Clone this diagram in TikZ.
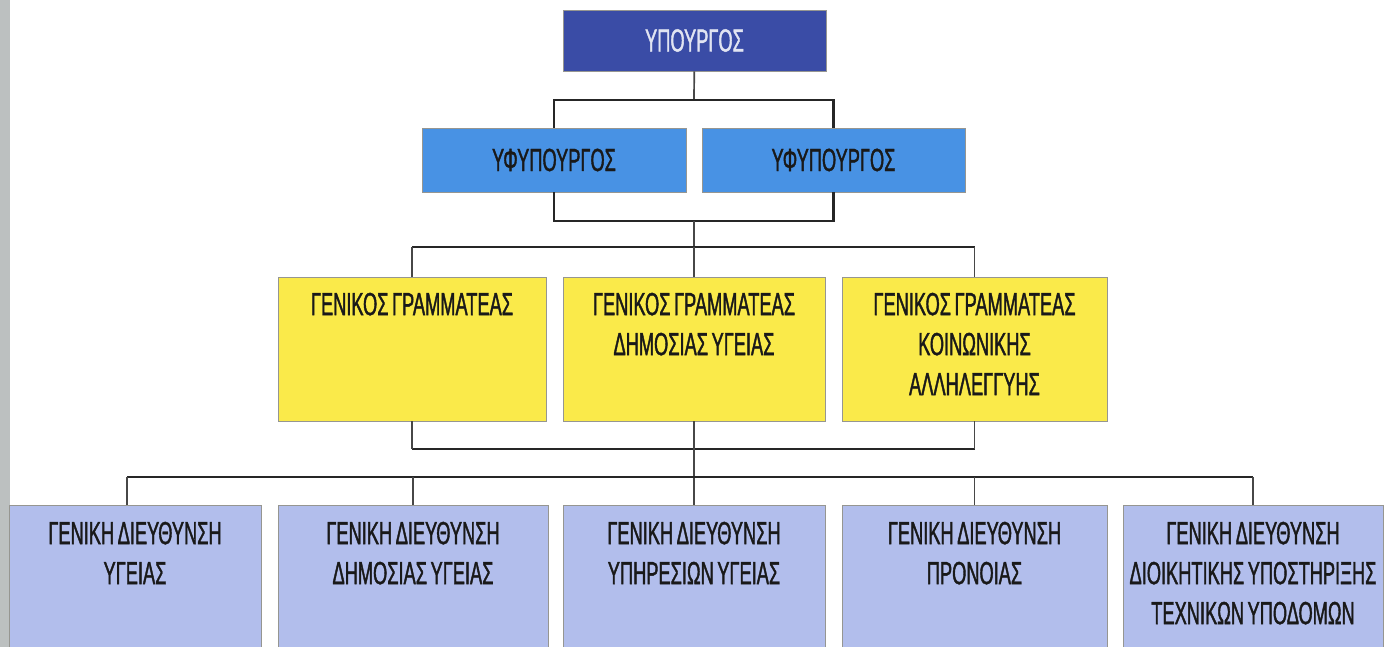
\documentclass[tikz,border=0pt]{standalone}
\usepackage{fontspec}
\setmainfont{Liberation Sans}[FakeStretch=0.57, FakeBold=1.2, WordSpace=0.7]
\usetikzlibrary{positioning}
\definecolor{ministerblue}{RGB}{58,76,166}
\definecolor{deputyblue}{RGB}{72,146,228}
\definecolor{secyellow}{RGB}{250,234,74}
\definecolor{dirlavender}{RGB}{178,190,236}
\definecolor{edgegray}{RGB}{150,150,145}
\definecolor{bargray}{RGB}{188,192,192}

\tikzset{
  orgbox/.style={rectangle, draw=edgegray, line width=0.8pt, inner sep=0pt},
  ministerbox/.style={orgbox, fill=ministerblue, text=white!85!ministerblue, minimum width=263pt, minimum height=61pt},
  deputybox/.style={orgbox, fill=deputyblue, text=black!90, minimum width=264pt, minimum height=64pt},
  secretarybox/.style={orgbox, fill=secyellow, minimum width=266pt, minimum height=144pt},
  directorbox/.style={orgbox, fill=dirlavender, minimum width=262pt, minimum height=144pt},
  boxtext/.style={inner sep=0pt, align=center, text=black!90},
  bus/.style={line width=2.8pt, draw=black!85},
  link/.style={line width=1.7pt, draw=black!72}
}

\begin{document}
\begin{tikzpicture}[x=1pt, y=-1pt, every node/.style={font=\fontsize{32}{40}\selectfont}]
    \useasboundingbox (0,0) rectangle (1391,647);
    \clip (0,0) rectangle (1391,647);
    \fill[white] (0,0) rectangle (1391,647);
    \fill[bargray] (0,0) rectangle (10,647);

    % top levels
    \node[ministerbox] (min) at (694.5,40.5) {ΥΠΟΥΡΓΟΣ};
    \node[deputybox] (dep1) at (554,160) {ΥΦΥΠΟΥΡΓΟΣ};
    \node[deputybox, minimum width=263pt] (dep2) at (833.5,160) {ΥΦΥΠΟΥΡΓΟΣ};

    % general secretaries
    \node[secretarybox, minimum width=268pt] (sg1) at (412,349) {};
    \node[secretarybox, minimum width=262pt] (sg2) at (694,349) {};
    \node[secretarybox, minimum width=265pt] (sg3) at (974.5,349) {};
    \node[boxtext, below=16pt of sg1.north] (sg1t) {ΓΕΝΙΚΟΣ ΓΡΑΜΜΑΤΕΑΣ};
    \node[boxtext, below=16pt of sg2.north] (sg2t) {ΓΕΝΙΚΟΣ ΓΡΑΜΜΑΤΕΑΣ\\ΔΗΜΟΣΙΑΣ ΥΓΕΙΑΣ};
    \node[boxtext, below=16pt of sg3.north] (sg3t) {ΓΕΝΙΚΟΣ ΓΡΑΜΜΑΤΕΑΣ\\ΚΟΙΝΩΝΙΚΗΣ\\ΑΛΛΗΛΕΓΓΥΗΣ};

    % general directorates
    \node[directorbox, minimum width=252pt] (gd1) at (135,577) {};
    \node[directorbox, minimum width=270pt] (gd2) at (413,577) {};
    \node[directorbox] (gd3) at (694,577) {};
    \node[directorbox, minimum width=265pt] (gd4) at (974.5,577) {};
    \node[directorbox, minimum width=260pt] (gd5) at (1253,577) {};
    \node[boxtext, below=17pt of gd1.north] (gd1t) {ΓΕΝΙΚΗ ΔΙΕΥΘΥΝΣΗ\\ΥΓΕΙΑΣ};
    \node[boxtext, below=17pt of gd2.north] (gd2t) {ΓΕΝΙΚΗ ΔΙΕΥΘΥΝΣΗ\\ΔΗΜΟΣΙΑΣ ΥΓΕΙΑΣ};
    \node[boxtext, below=17pt of gd3.north] (gd3t) {ΓΕΝΙΚΗ ΔΙΕΥΘΥΝΣΗ\\ΥΠΗΡΕΣΙΩΝ ΥΓΕΙΑΣ};
    \node[boxtext, below=17pt of gd4.north] (gd4t) {ΓΕΝΙΚΗ ΔΙΕΥΘΥΝΣΗ\\ΠΡΟΝΟΙΑΣ};
    \node[boxtext, below=17pt of gd5.north] (gd5t) {ΓΕΝΙΚΗ ΔΙΕΥΘΥΝΣΗ\\ΔΙΟΙΚΗΤΙΚΗΣ ΥΠΟΣΤΗΡΙΞΗΣ\\ΤΕΧΝΙΚΩΝ ΥΠΟΔΟΜΩΝ};

    % junctions of the bus lines
    \coordinate (j1) at (694,100);
    \coordinate (j2) at (694,221);
    \coordinate (j3) at (694,247);
    \coordinate (j4) at (694,449);
    \coordinate (j5) at (694,477);
    \coordinate (j5l) at (127,477);

    % connectors
    \draw[link] (min) -- (j1);
    \draw[bus] (dep1.north) |- (j1) -| (dep2.north);
    \draw[bus] (dep1.south) |- (j2) -| (dep2.south);
    \draw[link] (j2) -- (j3);
    \draw[bus] (j3 -| sg1.north) -- (j3 -| sg3.north);
    \foreach \s in {sg1,sg2,sg3}
        \draw[link] (j3 -| \s.north) -- (\s.north);
    \draw[bus] (j4 -| sg1.south) -- (j4 -| sg3.south);
    \foreach \s in {sg1,sg3}
        \draw[link] (\s.south) -- (j4 -| \s.south);
    \draw[link] (sg2) -- (gd3);
    \draw[bus] (j5l) -- (j5 -| gd5.north);
    \draw[link] (j5l) -- (j5l |- gd1.north);
    \foreach \g in {gd2,gd4,gd5}
        \draw[link] (j5 -| \g.north) -- (\g.north);
\end{tikzpicture}
\end{document}
